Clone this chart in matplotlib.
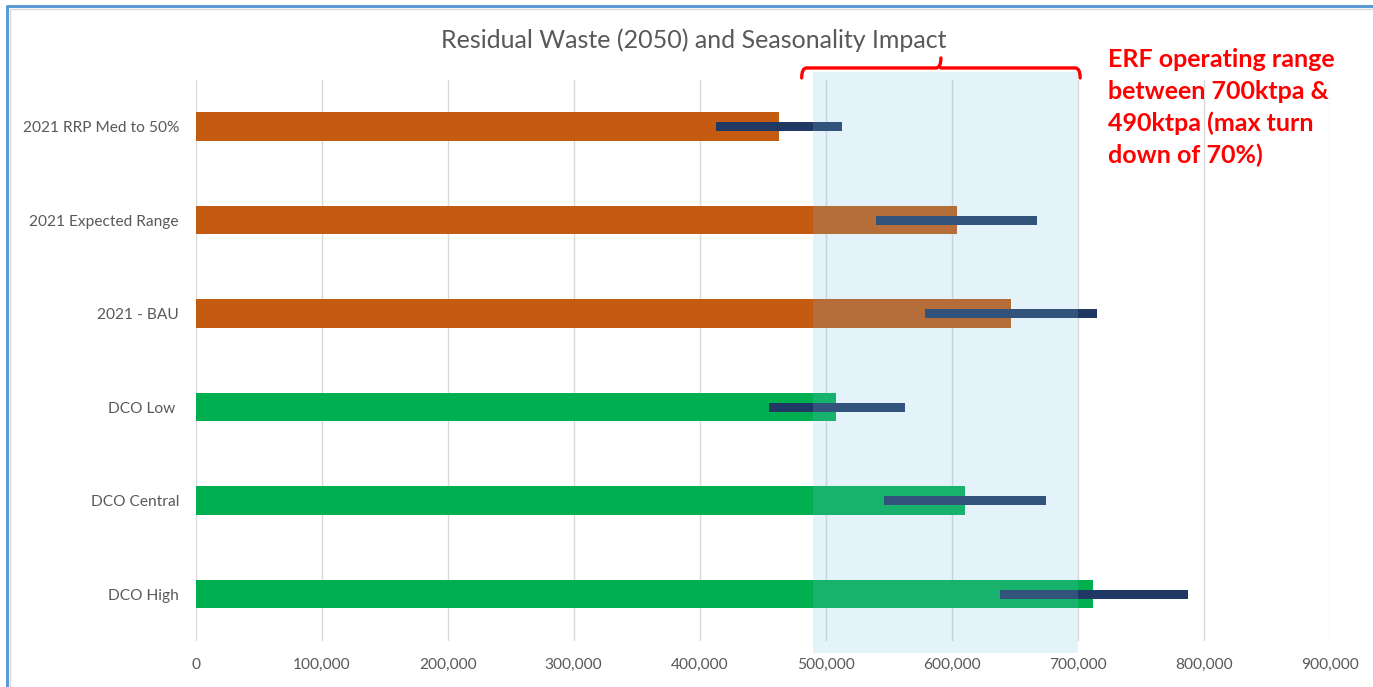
import numpy as np
import matplotlib.pyplot as plt
import matplotlib.transforms as mtransforms
from matplotlib.patches import Rectangle, PathPatch
from matplotlib.path import Path
from matplotlib.lines import Line2D
from matplotlib.ticker import FuncFormatter

categories = ["2021 RRP Med to 50%", "2021 Expected Range", "2021 - BAU",
              "DCO Low ", "DCO Central", "DCO High"]
residual = [463000, 604000, 647000, 508000, 611000, 712000]
season_low = [413000, 540000, 579000, 455000, 546000, 638000]
season_high = [513000, 668000, 715000, 563000, 675000, 788000]
bar_colors = ["#c55a11", "#c55a11", "#c55a11", "#00b050", "#00b050", "#00b050"]
erf_low = 490000
erf_high = 700000
xticks = np.arange(0, 900001, 100000)

plt.rcParams['font.family'] = ['Lato', 'DejaVu Sans']

fig = plt.figure(figsize=(13.73, 6.87), dpi=100)
ax = fig.add_axes([0.1425, 0.067, 0.8259, 0.8166])

y = np.arange(len(categories))
ax.barh(y, residual, height=0.305, color=bar_colors, zorder=2)
# seasonal swing drawn as a thin bar across each main bar
ax.barh(y, np.subtract(season_high, season_low), left=season_low,
        height=0.093, color="#203864", zorder=3)

ax.set_xlim(0, 900000)
ax.set_ylim(len(categories) - 0.5, -0.5)
ax.set_xticks(xticks)
ax.xaxis.set_major_formatter(FuncFormatter(lambda v, p: f"{int(v):,}"))
ax.set_yticks(y)
ax.set_yticklabels(categories)
ax.set_axisbelow(True)
ax.xaxis.grid(True, color="#d9d9d9", linewidth=1)
for s in ax.spines.values():
    s.set_visible(False)
ax.tick_params(axis="both", length=0, colors="#595959", labelsize=11.2)
ax.tick_params(axis="x", pad=12)
ax.tick_params(axis="y", pad=12)

# ERF operating window, shaded over the bars
trans = mtransforms.blended_transform_factory(ax.transData, ax.transAxes)
ax.add_patch(Rectangle((erf_low, -0.021), erf_high - erf_low, 1.035,
                       transform=trans, facecolor="#78c3e1", alpha=0.2,
                       linewidth=0, clip_on=False, zorder=4))

# curly bracket above the window
bl = erf_low - 9000
br = erf_high + 2000
bm = (bl + br) / 2
r = 4000
yb, yh, yt = 1.0036, 1.0214, 1.0392
verts = [(bl, yb), (bl, yh), (bl + r, yh),
         (bm - r, yh), (bm, yh), (bm, yt),
         (bm, yh), (bm + r, yh),
         (br - r, yh), (br, yh), (br, yb)]
codes = [Path.MOVETO, Path.CURVE3, Path.CURVE3,
         Path.LINETO, Path.CURVE3, Path.CURVE3,
         Path.MOVETO, Path.LINETO,
         Path.LINETO, Path.CURVE3, Path.CURVE3]
ax.add_patch(PathPatch(Path(verts, codes), transform=trans, fill=False,
                       edgecolor="#ff0000", linewidth=2.4, clip_on=False,
                       zorder=5, capstyle="round"))

fig.text(694 / 1373, 1 - 40 / 687, "Residual Waste (2050) and Seasonality Impact",
         ha="center", va="center", fontsize=18, color="#595959")
fig.text(1108 / 1373, 1 - 48 / 687,
         "ERF operating range\nbetween 700ktpa &\n490ktpa (max turn\ndown of 70%)",
         ha="left", va="top", fontsize=18, fontweight="bold", color="#ff0000",
         linespacing=1.45)

# chart frame (left and top edges only are in view)
fx, fy = 7 / 1373, 1 - 6 / 687
fig.add_artist(Line2D([fx, fx, 1.0], [0.0, fy, fy], transform=fig.transFigure,
                      color="#5b9bd5", linewidth=2.2))
gx, gy = 10 / 1373, 1 - 9 / 687
fig.add_artist(Line2D([gx, gx, 1.0], [0.0, gy, gy], transform=fig.transFigure,
                      color="#d9d9d9", linewidth=1))

fig.savefig("out.png", dpi=100)
